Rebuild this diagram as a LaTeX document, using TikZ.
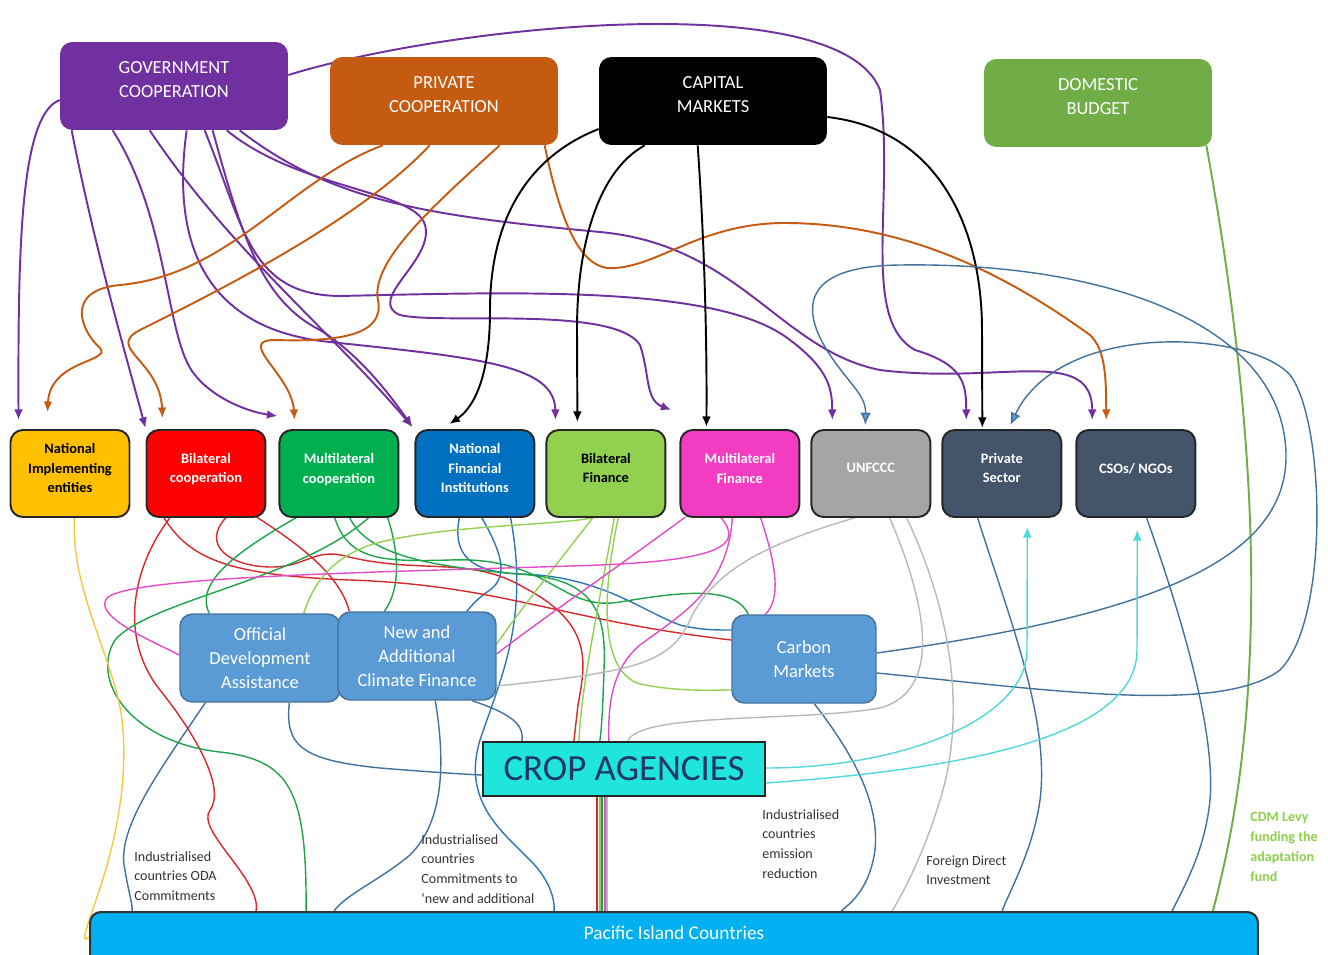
\documentclass[tikz,border=0pt]{standalone}
\usepackage{fontspec}
\setmainfont{Carlito}
\usetikzlibrary{arrows.meta, positioning, calc, backgrounds}

\definecolor{govpurple}{HTML}{7030A0}
\definecolor{privorange}{HTML}{C55A11}
\definecolor{domgreen}{HTML}{70AD47}
\definecolor{nieyellow}{HTML}{FFC000}
\definecolor{bcred}{HTML}{FF0000}
\definecolor{mcgreen}{HTML}{00B050}
\definecolor{nfiblue}{HTML}{0070C0}
\definecolor{bfgreen}{HTML}{92D050}
\definecolor{mfpink}{HTML}{F23DC3}
\definecolor{ungray}{HTML}{A5A5A5}
\definecolor{slate}{HTML}{44546A}
\definecolor{flowfill}{HTML}{5B9BD5}
\definecolor{flowedge}{HTML}{41719C}
\definecolor{cropfill}{HTML}{1FE5DC}
\definecolor{cropnavy}{HTML}{1F3864}
\definecolor{picblue}{HTML}{00B0F0}
\definecolor{redwire}{HTML}{D8282C}
\definecolor{greenwire}{HTML}{1FA34A}
\definecolor{pinkwire}{HTML}{E24CC6}
\definecolor{graywire}{HTML}{B8B8B8}
\definecolor{bluewire}{HTML}{2E75B6}
\definecolor{cyanwire}{HTML}{4FD8DA}
\definecolor{yellowwire}{HTML}{F5C840}
\definecolor{levygreen}{HTML}{8FCF4F}

\tikzset{
  topbox/.style={rectangle, rounded corners=7pt, minimum width=4.56cm, minimum height=1.76cm, text depth=0.26cm, align=center, text=white, font=\fontsize{10.5}{13.6}\selectfont},
  midbox/.style={rectangle, rounded corners=7pt, draw=black!85, line width=1.1pt, outer sep=0pt, minimum width=2.38cm, minimum height=1.74cm, text depth=0.22cm, align=center, text=white, font=\fontsize{8.2}{11.3}\selectfont\bfseries},
  flowbox/.style={rectangle, rounded corners=7pt, draw=flowedge, line width=0.8pt, fill=flowfill, minimum height=1.76cm, align=center, text=white, font=\fontsize{10.5}{13.6}\selectfont},
  annot/.style={anchor=north west, inner sep=0pt, align=left, text=black!80, font=\fontsize{8}{11.3}\selectfont},
  govline/.style={draw=govpurple, line width=1.1pt, -{Latex[length=6pt,width=5pt]}},
  privline/.style={draw=privorange, line width=1.1pt, -{Latex[length=6pt,width=5pt]}},
  capline/.style={draw=black, line width=1.1pt, -{Latex[length=6pt,width=5pt]}},
  flowline/.style={draw=flowedge, line width=0.8pt},
  wire/.style={line width=0.8pt}
}

\begin{document}
\begin{tikzpicture}[x=0.02cm, y=-0.02cm]
\useasboundingbox (0,0) rectangle (1328,954);

\node[topbox, fill=govpurple] (GOV) at (174,86) {GOVERNMENT\\COOPERATION};
\node[topbox, fill=privorange] (PRIV) at (444,101) {PRIVATE\\COOPERATION};
\node[topbox, fill=black] (CAP) at (713,101) {CAPITAL\\MARKETS};
\node[topbox, fill=domgreen] (DOM) at (1098,103) {DOMESTIC\\BUDGET};

\node[midbox, fill=nieyellow, text=black] (NIE) at (70,473.5) {National\\Implementing\\entities};
\node[midbox, fill=bcred, right=0.34cm of NIE] (BC) {Bilateral\\cooperation};
\node[midbox, fill=mcgreen, right=0.28cm of BC] (MC) {Multilateral\\cooperation};
\node[midbox, fill=nfiblue, right=0.34cm of MC] (NFI) {National\\Financial\\Institutions};
\node[midbox, fill=bfgreen, text=black, right=0.24cm of NFI] (BF) {Bilateral\\Finance};
\node[midbox, fill=mfpink, right=0.30cm of BF] (MF) {Multilateral\\Finance};
\node[midbox, fill=ungray, right=0.24cm of MF] (UNFCCC) {UNFCCC};
\node[midbox, fill=slate, right=0.24cm of UNFCCC] (PS) {Private\\Sector};
\node[midbox, fill=slate, right=0.30cm of PS] (CSO) {CSOs/ NGOs};

\node[flowbox, minimum width=3.2cm] (ODA) at (260,658) {Official\\Development\\Assistance};
\node[flowbox, minimum width=3.16cm] (NACF) at (417,656) {New and\\Additional\\Climate Finance};
\node[flowbox, minimum width=2.88cm] (CM) at (804,659) {Carbon\\Markets};

\node[draw=black!85, line width=1.3pt, fill=cropfill, minimum width=5.64cm, minimum height=1.08cm, text=cropnavy, font=\fontsize{21}{24}\selectfont] (CROP) at (624,769) {CROP AGENCIES};
\node[draw=black!80, line width=1.2pt, fill=picblue, rounded corners=6pt, anchor=north, minimum width=23.36cm, inner sep=0pt, text height=0.54cm, text depth=0.6cm, text=white, font=\fontsize{11}{13}\selectfont] (PIC) at (674,911) {Pacific Island Countries};

\node[annot] (odanote) at (134,851) {Industrialised\\countries ODA\\Commitments};
\node[annot] (nacfnote) at (421,834) {Industrialised\\countries\\Commitments to\\‘new and additional};
\node[annot] (cmnote) at (762,809) {Industrialised\\countries\\emission\\reduction};
\node[annot] (fdinote) at (926,855) {Foreign Direct\\Investment};
\node[annot, text=levygreen, font=\fontsize{8}{11.3}\selectfont\bfseries] (levynote) at (1250,812) {CDM Levy\\funding the\\adaptation\\fund};

\begin{scope}[on background layer]
\draw[govline] ($(GOV.west)+(0,14)$) .. controls (20,115) and (18,250) .. ($(NIE.north west)+(8,-10)$);
\draw[govline] ($(GOV.south west)+(12,0)$) .. controls (95,250) and (130,370) .. ($(BC.north west)+(-1,-2)$);
\draw[govline] ($(GOV.south west)+(53,0)$) .. controls (170,220) and (165,340) .. (195,375) .. controls (215,400) and (250,412) .. ($(MC.north west)+(-2,-14)$);
\draw[govline] ($(GOV.south west)+(90,0)$) .. controls (230,250) and (330,330) .. ($(NFI.north west)+(-3,-3)$);
\draw[govline] ($(GOV.south west)+(153,0)$) .. controls (240,230) and (260,300) .. (320,330) .. controls (360,355) and (390,395) .. ($(NFI.north west)+(-3,-3)$);
\draw[govline] ($(GOV.south west)+(127,0)$) .. controls (170,250) and (210,330) .. (330,342) .. controls (480,358) and (555,365) .. ($(BF.north west)+(9,-10)$);
\draw[govline] ($(GOV.south west)+(167,0)$) .. controls (300,190) and (415,190) .. (425,225) .. controls (435,260) and (365,300) .. (400,315) .. controls (440,325) and (615,305) .. (640,345) .. controls (650,375) and (645,400) .. ($(MF.north west)+(-9,-20)$);
\draw[govline] ($(GOV.south west)+(145,0)$) .. controls (245,230) and (250,295) .. (340,296) .. controls (520,292) and (720,285) .. (790,340) .. controls (830,370) and (832,390) .. ($(UNFCCC.north west)+(21,-10)$);
\draw[govline] ($(GOV.east)+(0,-11)$) .. controls (450,25) and (840,-15) .. (880,90) .. controls (895,200) and (860,320) .. (915,350) .. controls (965,365) and (966,385) .. ($(PS.north west)+(24,-10)$);
\draw[govline] ($(GOV.south west)+(180,0)$) .. controls (330,200) and (420,215) .. (600,232) .. controls (740,245) and (780,350) .. (880,370) .. controls (1000,385) and (1092,345) .. ($(CSO.north west)+(16,-10)$);

\draw[privline] ($(PRIV.south west)+(53,0)$) .. controls (290,180) and (230,275) .. (120,285) .. controls (65,290) and (80,330) .. (100,348) .. controls (112,362) and (50,360) .. ($(NIE.north west)+(37,-18)$);
\draw[privline] ($(PRIV.south west)+(100,0)$) .. controls (360,220) and (220,290) .. (140,330) .. controls (105,348) and (160,360) .. ($(BC.north west)+(16,-12)$);
\draw[privline] ($(PRIV.south west)+(170,0)$) .. controls (440,200) and (370,260) .. (378,300) .. controls (385,335) and (340,342) .. (275,340) .. controls (235,340) and (292,375) .. ($(MC.north west)+(15,-10)$);
\draw[privline] ($(PRIV.south west)+(215,0)$) .. controls (560,220) and (580,272) .. (615,268) .. controls (660,265) and (700,225) .. (780,223) .. controls (900,222) and (1000,270) .. (1090,335) .. controls (1106,350) and (1106,380) .. ($(CSO.north west)+(30,-10)$);

\draw[capline] ($(CAP.west)+(0,28)$) .. controls (520,160) and (490,230) .. (490,310) .. controls (490,385) and (470,410) .. ($(NFI.north west)+(34,-6)$);
\draw[capline] ($(CAP.south west)+(46,0)$) .. controls (600,170) and (577,240) .. (577,330) -- ($(BF.north west)+(31,-8)$);
\draw[capline] ($(CAP.south west)+(99,0)$) .. controls (705,250) and (707,350) .. ($(MF.north west)+(26,-3)$);
\draw[capline] ($(CAP.east)+(0,16)$) .. controls (940,130) and (982,230) .. (982,330) -- ($(PS.north west)+(40,-2)$);

\draw[draw=domgreen, line width=1.1pt] ($(DOM.south east)+(-6,-2)$) .. controls (1240,330) and (1256,500) .. (1250,650) .. controls (1245,780) and (1226,860) .. ($(PIC.north east)+(-46,0)$);

\draw[flowline, -{Latex[length=7pt,width=6pt,fill=flowfill]}] ($(CM.east)+(0,-6)$) .. controls (1150,615) and (1300,560) .. (1285,440) .. controls (1270,320) and (1100,262) .. (900,265) .. controls (800,266) and (800,310) .. (830,355) .. controls (850,385) and (866,395) .. ($(UNFCCC.north west)+(54,-5)$);
\draw[flowline, -{Latex[length=7pt,width=6pt,fill=flowfill]}] ($(CM.east)+(0,14)$) .. controls (1050,690) and (1220,715) .. (1280,670) .. controls (1330,620) and (1325,420) .. (1290,375) .. controls (1250,330) and (1060,320) .. ($(PS.north west)+(68,-5)$);
\draw[flowline] ($(PS.south west)+(35,0)$) .. controls (1010,620) and (1050,720) .. (1040,800) .. controls (1033,850) and (1010,890) .. ($(PIC.north west)+(913,0)$);
\draw[flowline] ($(CSO.south west)+(70,0)$) .. controls (1190,640) and (1215,740) .. (1210,800) .. controls (1205,850) and (1185,885) .. ($(PIC.north west)+(1083,0)$);
\draw[flowline] ($(CM.south west)+(83,0)$) .. controls (850,750) and (880,800) .. (875,850) .. controls (870,885) and (855,900) .. ($(PIC.north west)+(752,0)$);
\draw[flowline] ($(ODA.south west)+(26,0)$) .. controls (160,770) and (115,830) .. (125,870) .. controls (128,890) and (133,905) .. ($(PIC.north west)+(43,0)$);
\draw[flowline] ($(ODA.south west)+(110,0)$) .. controls (285,745) and (300,760) .. (380,768) .. controls (430,772) and (460,774) .. ($(CROP.west)+(0,6)$);
\draw[flowline] ($(NACF.south west)+(98,0)$) .. controls (445,760) and (445,820) .. (410,855) .. controls (380,880) and (345,895) .. ($(PIC.north west)+(245,0)$);
\draw[flowline] ($(NACF.south west)+(135,0)$) .. controls (505,712) and (525,722) .. ($(CROP.north west)+(40,0)$);

\draw[wire, bluewire] ($(NFI.south west)+(44,0)$) .. controls (452,555) and (470,572) .. (520,574) .. controls (600,576) and (640,610) .. (680,625) .. controls (700,630) and (715,630) .. ($(CM.west)+(0,-29)$);
\draw[wire, bluewire] ($(NFI.south west)+(66,0)$) .. controls (500,550) and (510,575) .. (490,590) .. controls (475,600) and (470,608) .. ($(NACF.north east)+(-30,0)$);
\draw[wire, bluewire] ($(NFI.south west)+(95,0)$) .. controls (530,620) and (500,680) .. (480,740) .. controls (462,800) and (500,830) .. (530,860) .. controls (550,880) and (555,900) .. ($(PIC.north west)+(465,0)$);

\draw[wire, redwire] ($(BC.south west)+(24,0)$) .. controls (130,570) and (120,640) .. (160,690) .. controls (200,740) and (225,790) .. (210,810) .. controls (195,830) and (262,880) .. ($(PIC.north west)+(167,0)$);
\draw[wire, redwire] ($(BC.south west)+(17,0)$) .. controls (190,560) and (230,575) .. (350,580) .. controls (500,585) and (560,620) .. ($(CM.west)+(0,-19)$);
\draw[wire, redwire] ($(BC.south west)+(80,0)$) .. controls (200,545) and (230,567) .. (272,567) .. controls (305,567) and (315,548) .. (345,556) .. controls (420,575) and (470,555) .. (525,588) .. controls (595,625) and (585,665) .. (578,705) .. controls (576,722) and (575,732) .. ($(CROP.north west)+(92,0)$);
\draw[wire, redwire] ($(BC.south west)+(110,0)$) .. controls (300,545) and (340,575) .. ($(NACF.north west)+(12,0)$);

\draw[wire, greenwire] ($(MC.south west)+(18,0)$) .. controls (230,555) and (195,585) .. ($(ODA.north west)+(30,0)$);
\draw[wire, greenwire] ($(MC.south west)+(90,0)$) .. controls (300,580) and (150,600) .. (115,640) .. controls (90,680) and (130,742) .. (220,752) .. controls (290,760) and (307,790) .. ($(PIC.north west)+(217,0)$);
\draw[wire, greenwire] ($(MC.south west)+(108,0)$) .. controls (400,555) and (400,590) .. ($(NACF.north west)+(47,0)$);
\draw[wire, greenwire] ($(MC.south west)+(55,0)$) .. controls (348,560) and (380,562) .. (450,560) .. controls (550,556) and (560,612) .. (620,602) .. controls (680,592) and (735,585) .. ($(CM.north west)+(17,0)$);
\draw[wire, greenwire] ($(MC.south west)+(70,0)$) .. controls (368,560) and (450,568) .. (530,575) .. controls (600,582) and (606,620) .. (604,670) .. controls (603,700) and (602,725) .. ($(CROP.north west)+(118,0)$);

\draw[wire, bfgreen] ($(BF.south west)+(50,0)$) .. controls (560,526) and (440,524) .. (370,545) .. controls (322,562) and (310,595) .. ($(ODA.north east)+(-37,0)$);
\draw[wire, bfgreen] ($(BF.south west)+(47,0)$) .. controls (560,560) and (520,610) .. ($(NACF.east)+(0,-12)$);
\draw[wire, bfgreen] ($(BF.south west)+(68,0)$) .. controls (600,600) and (582,680) .. ($(CROP.north west)+(97,0)$);
\draw[wire, bfgreen] ($(BF.south west)+(72,0)$) .. controls (605,580) and (595,670) .. (640,684) .. controls (680,692) and (710,690) .. ($(CM.west)+(0,31)$);

\draw[wire, pinkwire] ($(MF.south west)+(40,0)$) .. controls (745,545) and (720,560) .. (600,565) .. controls (400,572) and (140,575) .. (108,597) .. controls (90,615) and (150,640) .. ($(ODA.west)+(0,-3)$);
\draw[wire, pinkwire] ($(MF.south west)+(5,0)$) .. controls (600,580) and (540,620) .. ($(NACF.east)+(0,-2)$);
\draw[wire, pinkwire] ($(MF.south west)+(52,0)$) .. controls (728,590) and (680,615) .. (640,645) .. controls (610,670) and (608,710) .. ($(CROP.north west)+(127,0)$);
\draw[wire, pinkwire] ($(MF.south west)+(80,0)$) .. controls (778,570) and (780,600) .. ($(CM.north west)+(34,0)$);

\draw[wire, graywire] ($(UNFCCC.south west)+(46,0)$) .. controls (780,540) and (715,565) .. (690,620) .. controls (670,665) and (630,672) .. ($(NACF.east)+(0,30)$);
\draw[wire, graywire] ($(UNFCCC.south west)+(78,0)$) .. controls (925,600) and (945,690) .. (880,708) .. controls (800,722) and (640,712) .. ($(CROP.north west)+(146,0)$);
\draw[wire, graywire] ($(UNFCCC.south west)+(95,0)$) .. controls (955,620) and (965,720) .. (940,800) .. controls (925,850) and (905,890) .. ($(PIC.north west)+(803,0)$);

\draw[wire, cyanwire, -{Latex[length=6pt,width=5pt]}] ($(CROP.east)+(0,-1)$) .. controls (900,768) and (1027,720) .. (1027,650) -- ($(PS.south west)+(85,10)$);
\draw[wire, cyanwire, -{Latex[length=6pt,width=5pt]}] ($(CROP.east)+(0,14)$) .. controls (950,770) and (1137,740) .. (1137,650) -- ($(CSO.south west)+(61,13)$);

\draw[wire, yellowwire] ($(NIE.south west)+(64,0)$) .. controls (70,590) and (115,660) .. (122,720) .. controls (130,790) and (110,860) .. (96,900) .. controls (86,930) and (80,945) .. ($(PIC.north west)+(0,26)$);

\foreach \dx/\wc in {-27/redwire, -24/bfgreen, -22/greenwire, -19/pinkwire, -17/graywire}
  \draw[wire, \wc] ($(CROP.south)+(\dx,0)$) -- ++(0,115);
\end{scope}
\end{tikzpicture}
\end{document}
